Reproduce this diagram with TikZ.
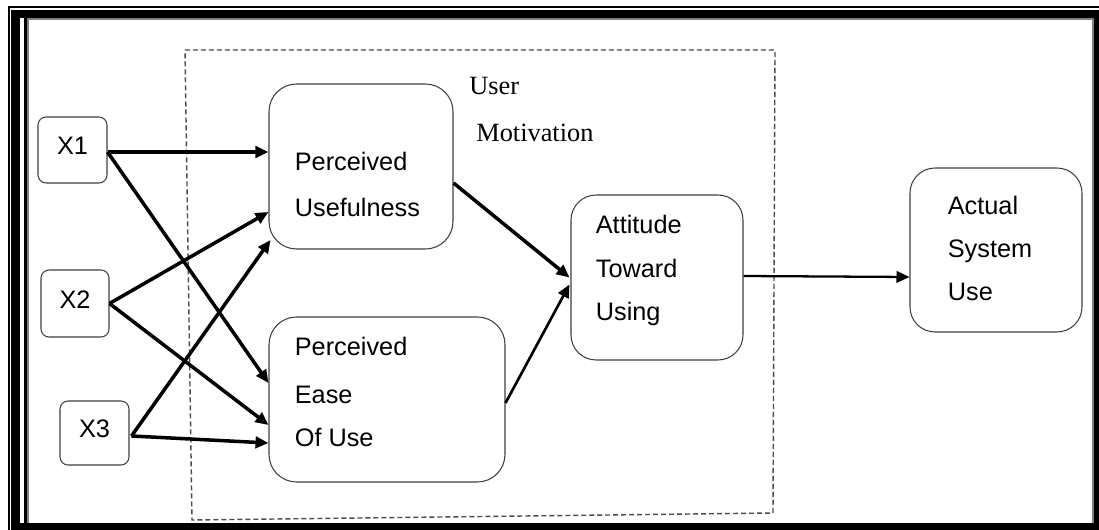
\documentclass[tikz,border=0pt]{standalone}
\usepackage{fontspec}
\setmainfont{Liberation Sans}
\newfontfamily\timesfont{Liberation Serif}
\usetikzlibrary{arrows.meta,positioning}

\tikzset{
    factor/.style={draw=black!75, line width=0.6pt, rounded corners=0.16cm, minimum width=1.38cm, minimum height=1.32cm, inner sep=0pt, text depth=0.16cm, font=\fontsize{14.4}{24.4}\selectfont},
    construct/.style={draw=black!75, line width=0.6pt, rounded corners=0.55cm, minimum height=3.3cm, inner sep=0pt},
    words/.style={anchor=base west, align=left, inner sep=0pt, font=\fontsize{14.4}{24.4}\selectfont},
    link/.style={line width=2pt, -{Triangle[length=0.26cm,width=0.23cm]}},
}

\begin{document}
\begin{tikzpicture}[x=0.02cm, y=-0.02cm]
    \useasboundingbox (0,0) rectangle (1099,530);
    % frame
    \fill (8,6) rectangle (1099,530);
    \fill[white] (10,8) rectangle (1099,10);
    \fill[white] (10,8) rectangle (11,530);
    \fill[white] (20,18) rectangle (24,523);
    \fill[white] (28,19) rectangle (1093,523);
    \draw[gray, line width=0.6pt] (28,523) -- (28,19) -- (1093,19) -- (1093,523);
    % user motivation area
    \draw[black!70, line width=0.8pt, dash pattern=on 0.1cm off 0.06cm] (185,50) -- (775,50) -- (773,513) -- (192,520) -- cycle;

    \node[factor] (x1) at (72.5,150) {X1};
    \node[factor, minimum width=1.36cm, minimum height=1.34cm] (x2) at (75,303.5) {X2};
    \node[factor, minimum height=1.28cm] (x3) at (94.5,433) {X3};
    \node[construct, minimum width=3.68cm] (pu) at (361,166.5) {};
    \node[construct, minimum width=4.72cm] (peou) at (387,399.5) {};
    \node[construct, minimum width=3.44cm, rounded corners=0.5cm] (atu) at (657,277.5) {};
    \node[construct, minimum width=3.44cm, minimum height=3.28cm, rounded corners=0.5cm] (asu) at (996,250) {};

    \node[words] (putext) at ([shift={(26,50.5)}]pu.west) {Perceived\\[2.2pt]Usefulness};
    \node[words] (peoutext) at ([shift={(26,46.5)}]peou.west) {Perceived\\[2.8pt]Ease\\Of Use};
    \node[words] (atutext) at ([shift={(25,42.5)}]atu.west) {Attitude\\[0.5pt]Toward\\Using};
    \node[words] (asutext) at ([shift={(38,50)}]asu.west) {Actual\\System\\Use};
    \node[words, font=\timesfont\fontsize{15}{18}\selectfont] (user) at (469,95) {User};
    \node[words, font=\timesfont\fontsize{15}{18}\selectfont] (motiv) at (476,142) {Motivation};

    \draw[link] ([shift={(0,2)}]x1.east) -- ([shift={(0,-14.5)}]pu.west);
    \draw[link] ([shift={(0,2)}]x1.east) -- ([shift={(0,-16.5)}]peou.west);
    \draw[link] (x2.east) -- ([shift={(0,45.5)}]pu.west);
    \draw[link] (x2.east) -- ([shift={(0,25.5)}]peou.west);
    \draw[link] ([shift={(2,3)}]x3.east) -- ([shift={(2,73.5)}]pu.west);
    \draw[link] ([shift={(2,3)}]x3.east) -- ([shift={(0,43.5)}]peou.west);
    \draw[link] ([shift={(0,16.5)}]pu.east) -- ([shift={(-1,0)}]atu.west);
    \draw[link, line width=1.5pt] ([shift={(0,3.5)}]peou.east) -- ([shift={(-1,7)}]atu.west);
    \draw[link, line width=1.3pt] ([shift={(0,-1.5)}]atu.east) -- ([shift={(0,27)}]asu.west);
\end{tikzpicture}
\end{document}
